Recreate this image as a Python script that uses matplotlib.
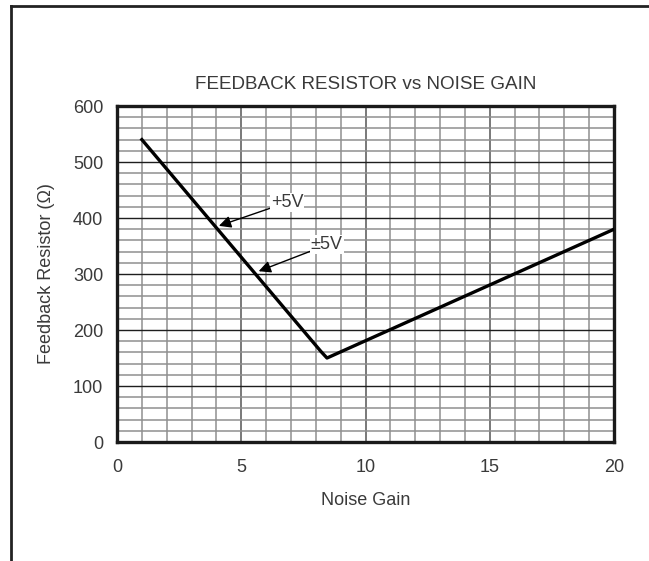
import matplotlib
matplotlib.use("Agg")
import matplotlib.pyplot as plt
from matplotlib.lines import Line2D
from matplotlib.ticker import MultipleLocator

# ── Data ─────────────────────────────────────────────────────────────────────
noise_gain = [1, 8.2, 8.45, 8.8, 20]
feedback_r = [540, 162, 150, 157, 380]

x_ticks = [0, 5, 10, 15, 20]
y_ticks = [0, 100, 200, 300, 400, 500, 600]

labels = ["+5V", "\u00b15V"]
label_xy = [(6.2, 428), (7.8, 352)]
arrow_tip = [(4.1, 386), (5.7, 305)]

plt.rcParams["font.family"] = ["Liberation Sans", "DejaVu Sans"]
txt = "#3a3a3a"
fs = 13

fig = plt.figure(figsize=(6.49, 5.61), dpi=100)
ax = fig.add_axes([0.1803, 0.2121, 0.7658, 0.5989])

ax.plot(noise_gain, feedback_r, color="black", linewidth=2.4,
        solid_joinstyle="round", zorder=5)

ax.set_xlim(0, 20)
ax.set_ylim(0, 600)
ax.set_xticks(x_ticks)
ax.set_yticks(y_ticks)
ax.xaxis.set_minor_locator(MultipleLocator(1))
ax.yaxis.set_minor_locator(MultipleLocator(20))
ax.grid(which="minor", color="#8f8f8f", linewidth=1.1)
ax.grid(which="major", axis="y", color="#1e1e1e", linewidth=1.0)
ax.grid(which="major", axis="x", color="#555555", linewidth=1.1)
ax.set_axisbelow(True)
ax.tick_params(which="both", length=0, labelsize=fs, colors=txt)
ax.tick_params(axis="x", pad=12)
ax.tick_params(axis="y", pad=10)
for s in ax.spines.values():
    s.set_linewidth(2.4)
    s.set_color("#1a1a1a")

for lab, (tx, ty), (hx, hy) in zip(labels, label_xy, arrow_tip):
    ax.annotate(lab, xy=(hx, hy), xytext=(tx, ty), fontsize=fs, color=txt,
                ha="left", va="center", zorder=6,
                bbox=dict(boxstyle="square,pad=0.05", fc="white", ec="none"),
                arrowprops=dict(arrowstyle="-|>", color="black", lw=1.0,
                                mutation_scale=18, shrinkA=0, shrinkB=0))

ax.set_title("FEEDBACK RESISTOR vs NOISE GAIN", fontsize=13.6, color=txt, pad=12)
ax.set_xlabel("Noise Gain", fontsize=fs, color=txt, labelpad=12)
ax.set_ylabel("Feedback Resistor (\u03a9)", fontsize=fs, color=txt, labelpad=13)

# outer frame (left and top edges only)
fig.add_artist(Line2D([0.017, 0.017], [0, 0.989], color="#222222", linewidth=2))
fig.add_artist(Line2D([0.017, 1.0], [0.989, 0.989], color="#222222", linewidth=2))

fig.savefig("out.png", dpi=100)
